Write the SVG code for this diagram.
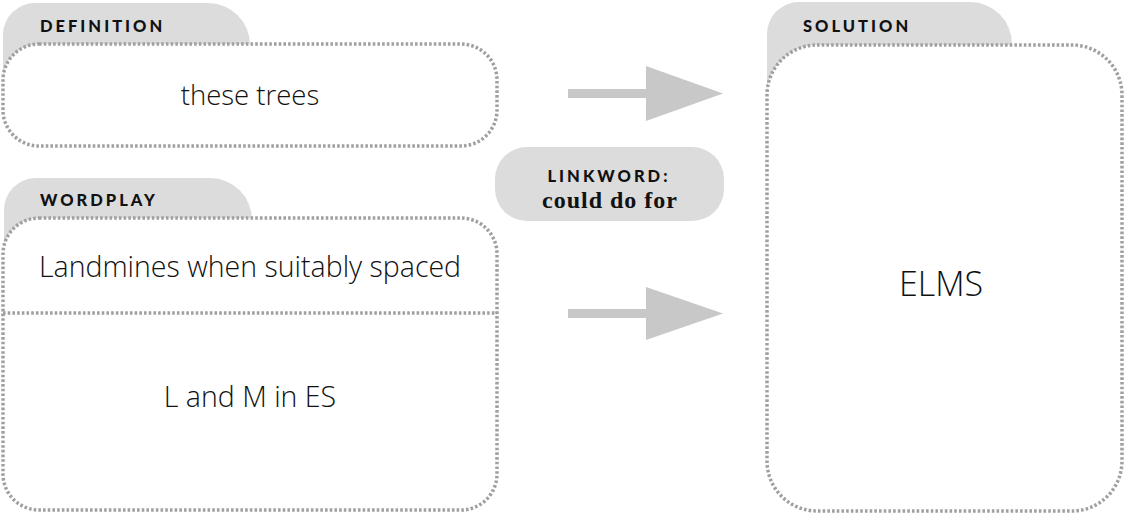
<svg xmlns="http://www.w3.org/2000/svg" width="1124" height="515" viewBox="0 0 1124 515">
<style>
.tab{fill:#dcdcdc}
.box{fill:#fff;stroke:#a0a0a0;stroke-width:3.5;stroke-dasharray:2.6 2.1}
.lbl{font-family:"Lato","Open Sans",sans-serif;font-weight:900;font-size:16.5px;letter-spacing:3px;fill:#111}
.txt{font-family:"Open Sans","Noto Sans",sans-serif;font-weight:300;font-size:28.5px;fill:#111;text-anchor:middle}
.arr{fill:#c8c8c8}
</style>
<rect width="1124" height="515" fill="#fff"/>
<g id="definition">
<path class="tab" d="M3,80 V35 A32,32 0 0 1 35,3 H208 A42,42 0 0 1 250,45 V80 Z"/>
<rect class="box" x="3" y="44" width="494" height="102" rx="36"/>
<text class="lbl" x="40" y="32">DEFINITION</text>
<text class="txt" x="250" y="105" style="font-size:27.5px">these trees</text>
</g>
<g id="wordplay">
<path class="tab" d="M4,260 V210 A32,32 0 0 1 36,178 H210 A42,42 0 0 1 252,220 V260 Z"/>
<rect class="box" x="3" y="218" width="494" height="292" rx="36"/>
<line class="box" x1="3" y1="313" x2="497" y2="313"/>
<text class="lbl" x="40" y="206">WORDPLAY</text>
<text class="txt" x="250" y="277">Landmines when suitably spaced</text>
<text class="txt" x="250" y="407">L and M in ES</text>
</g>
<g id="solution">
<path class="tab" d="M767,90 V34 A32,32 0 0 1 799,2 H970 A42,42 0 0 1 1012,44 V90 Z"/>
<rect class="box" x="767" y="45" width="355" height="466" rx="50"/>
<text class="lbl" x="803" y="32">SOLUTION</text>
<text class="txt" x="941" y="296" style="font-size:34px">ELMS</text>
</g>
<g id="linkword">
<rect x="495" y="147" width="229" height="74" rx="32" fill="#dcdcdc"/>
<text class="lbl" x="609" y="182" text-anchor="middle">LINKWORD:</text>
<text x="610" y="208" text-anchor="middle" style="font-family:'Liberation Serif','DejaVu Serif',serif;font-weight:bold;font-size:24px;fill:#111;letter-spacing:1px">could do for</text>
</g>
<g id="connectors">
<rect class="arr" x="568" y="89" width="80" height="9"/>
<polygon class="arr" points="646,66 723,93.5 646,121"/>
<rect class="arr" x="568" y="309" width="80" height="9"/>
<polygon class="arr" points="646,287 723,313.5 646,340"/>
</g>
</svg>
